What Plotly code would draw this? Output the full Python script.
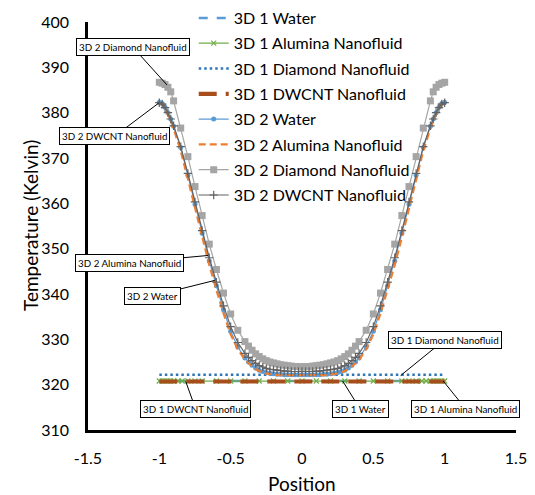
import plotly.graph_objects as go

# ---------------- data ----------------
x_3d1 = [-1.0, -0.98, -0.96, -0.94, -0.92, -0.9, -0.87, -0.84, -0.8, -0.75, -0.7, -0.6,
         -0.5, -0.4, -0.3, -0.2, -0.1, 0.0, 0.1, 0.2, 0.3, 0.4, 0.5, 0.6, 0.7, 0.75,
         0.8, 0.84, 0.87, 0.9, 0.92, 0.94, 0.96, 0.98, 1.0]

water_3d1 = [320.8, 320.8, 320.8, 320.8, 320.8, 320.8, 320.8, 320.8, 320.8, 320.8, 320.8, 320.8,
             320.8, 320.8, 320.8, 320.8, 320.8, 320.8, 320.8, 320.8, 320.8, 320.8, 320.8, 320.8,
             320.8, 320.8, 320.8, 320.8, 320.8, 320.8, 320.8, 320.8, 320.8, 320.8, 320.8]
alumina_3d1 = [320.8, 320.8, 320.8, 320.8, 320.8, 320.8, 320.8, 320.8, 320.8, 320.8, 320.8, 320.8,
               320.8, 320.8, 320.8, 320.8, 320.8, 320.8, 320.8, 320.8, 320.8, 320.8, 320.8, 320.8,
               320.8, 320.8, 320.8, 320.8, 320.8, 320.8, 320.8, 320.8, 320.8, 320.8, 320.8]
diamond_3d1 = [322.2, 322.2, 322.2, 322.2, 322.2, 322.2, 322.2, 322.2, 322.2, 322.2, 322.2, 322.2,
               322.2, 322.2, 322.2, 322.2, 322.2, 322.2, 322.2, 322.2, 322.2, 322.2, 322.2, 322.2,
               322.2, 322.2, 322.2, 322.2, 322.2, 322.2, 322.2, 322.2, 322.2, 322.2, 322.2]
dwcnt_3d1 = [320.7, 320.7, 320.7, 320.7, 320.7, 320.7, 320.7, 320.7, 320.7, 320.7, 320.7, 320.7,
             320.7, 320.7, 320.7, 320.7, 320.7, 320.7, 320.7, 320.7, 320.7, 320.7, 320.7, 320.7,
             320.7, 320.7, 320.7, 320.7, 320.7, 320.7, 320.7, 320.7, 320.7, 320.7, 320.7]

x_3d2 = [-1.0, -0.98, -0.96, -0.94, -0.92, -0.9, -0.85, -0.8, -0.75, -0.7, -0.65, -0.6,
         -0.55, -0.5, -0.45, -0.4, -0.375, -0.35, -0.325, -0.3, -0.275, -0.25, -0.225, -0.2,
         -0.175, -0.15, -0.125, -0.1, -0.075, -0.05, -0.025, 0.0,
         0.025, 0.05, 0.075, 0.1, 0.125, 0.15, 0.175, 0.2, 0.225, 0.25, 0.275, 0.3,
         0.325, 0.35, 0.375, 0.4, 0.45, 0.5, 0.55, 0.6, 0.65, 0.7, 0.75, 0.8,
         0.85, 0.9, 0.92, 0.94, 0.96, 0.98, 1.0]

water_3d2 = [382.3, 382.0, 381.2, 380.0, 378.6, 377.0, 372.3, 366.2, 359.8, 353.4, 347.3, 341.8,
             336.5, 331.8, 328.3, 325.9, 325.0, 324.3, 323.7, 323.2, 322.9, 322.7, 322.5, 322.4,
             322.3, 322.3, 322.2, 322.2, 322.2, 322.2, 322.2, 322.2,
             322.2, 322.2, 322.2, 322.2, 322.2, 322.3, 322.3, 322.4, 322.5, 322.7, 322.9, 323.2,
             323.7, 324.3, 325.0, 325.9, 328.3, 331.8, 336.5, 341.8, 347.3, 353.4, 359.8, 366.2,
             372.3, 377.0, 378.6, 380.0, 381.2, 382.0, 382.3]
alumina_3d2 = [382.1, 381.8, 381.0, 379.7, 378.2, 376.5, 371.6, 365.4, 358.9, 352.5, 346.4, 340.9,
               335.7, 331.1, 327.8, 325.5, 324.7, 324.0, 323.4, 323.0, 322.7, 322.5, 322.3, 322.2,
               322.1, 322.1, 322.0, 322.0, 322.0, 322.0, 322.0, 322.0,
               322.0, 322.0, 322.0, 322.0, 322.0, 322.1, 322.1, 322.2, 322.3, 322.5, 322.7, 323.0,
               323.4, 324.0, 324.7, 325.5, 327.8, 331.1, 335.7, 340.9, 346.4, 352.5, 358.9, 365.4,
               371.6, 376.5, 378.2, 379.7, 381.0, 381.8, 382.1]
diamond_3d2 = [386.7, 386.5, 386.2, 385.6, 384.6, 382.6, 376.6, 370.3, 363.7, 357.3, 351.0, 345.4,
               340.2, 335.6, 332.0, 329.5, 328.5, 327.6, 326.8, 326.2, 325.7, 325.3, 325.0, 324.8,
               324.6, 324.4, 324.3, 324.2, 324.1, 324.0, 324.0, 323.9,
               324.0, 324.0, 324.1, 324.2, 324.3, 324.4, 324.6, 324.8, 325.0, 325.3, 325.7, 326.2,
               326.8, 327.6, 328.5, 329.5, 332.0, 335.6, 340.2, 345.4, 351.0, 357.3, 363.7, 370.3,
               376.6, 382.6, 384.6, 385.6, 386.2, 386.5, 386.7]
dwcnt_3d2 = [382.2, 381.9, 381.1, 380.0, 378.6, 377.1, 372.5, 366.6, 360.3, 354.0, 348.0, 342.6,
             337.4, 332.8, 329.3, 326.9, 326.0, 325.3, 324.7, 324.2, 323.9, 323.6, 323.4, 323.3,
             323.2, 323.1, 323.0, 323.0, 322.9, 322.9, 322.9, 322.9,
             322.9, 322.9, 322.9, 323.0, 323.0, 323.1, 323.2, 323.3, 323.4, 323.6, 323.9, 324.2,
             324.7, 325.3, 326.0, 326.9, 329.3, 332.8, 337.4, 342.6, 348.0, 354.0, 360.3, 366.6,
             372.5, 377.1, 378.6, 380.0, 381.1, 381.9, 382.2]

x_tick_vals = [-1.5, -1, -0.5, 0, 0.5, 1, 1.5]
x_tick_text = ["-1.5", "-1", "-0.5", "0", "0.5", "1", "1.5"]
y_tick_vals = [310, 320, 330, 340, 350, 360, 370, 380, 390, 400]
y_tick_text = ["310", "320", "330", "340", "350", "360", "370", "380", "390", "400"]

# callout labels: text, point (x, y), box centre (x, y)
callout_text = ["3D 2 Diamond Nanofluid", "3D 2 DWCNT Nanofluid", "3D 2 Alumina Nanofluid",
                "3D 2 Water", "3D 1 Diamond Nanofluid", "3D 1 DWCNT Nanofluid",
                "3D 1 Water", "3D 1 Alumina Nanofluid"]
callout_px = [-0.946, -1.005, -0.659, -0.611, 0.691, -0.815, 0.285, 0.99]
callout_py = [386.1, 382.1, 348.5, 343.0, 322.0, 320.7, 320.8, 320.8]
callout_bx = [-1.187, -1.313, -1.211, -1.045, 1.0, -0.745, 0.408, 1.149]
callout_by = [394.5, 374.8, 346.9, 339.6, 329.9, 314.6, 314.6, 314.6]

for arr in (water_3d2, alumina_3d2, diamond_3d2, dwcnt_3d2):
    assert len(arr) == len(x_3d2)

# ---------------- figure ----------------
FONT = "Lato"
fig = go.Figure()

fig.add_trace(go.Scatter(x=x_3d1, y=water_3d1, name="3D 1 Water", mode="lines",
                         line=dict(color="#5B9BD5", width=2.5, dash="dash"), legendgroup="a"))
fig.add_trace(go.Scatter(x=x_3d1, y=alumina_3d1, name="3D 1 Alumina Nanofluid", mode="lines+markers",
                         line=dict(color="#70AD47", width=1.2),
                         marker=dict(symbol="x-thin", size=5, line=dict(color="#70AD47", width=1.2)),
                         legendgroup="b"))
fig.add_trace(go.Scatter(x=x_3d1, y=diamond_3d1, name="3D 1 Diamond Nanofluid", mode="lines",
                         line=dict(color="#2E75B6", width=2.5, dash="2.5px,3px"), legendgroup="c"))
fig.add_trace(go.Scatter(x=x_3d1, y=dwcnt_3d1, name="3D 1 DWCNT Nanofluid", mode="lines",
                         line=dict(color="#A84E1C", width=4.2, dash="18px,9px"), legendgroup="d"))
fig.add_trace(go.Scatter(x=x_3d2, y=water_3d2, name="3D 2 Water", mode="lines+markers",
                         line=dict(color="#5B9BD5", width=1.2),
                         marker=dict(symbol="circle", size=5, color="#5B9BD5"), legendgroup="e"))
fig.add_trace(go.Scatter(x=x_3d2, y=alumina_3d2, name="3D 2 Alumina Nanofluid", mode="lines",
                         line=dict(color="#ED7D31", width=2.2, dash="7px,4px"), legendgroup="f"))
fig.add_trace(go.Scatter(x=x_3d2, y=diamond_3d2, name="3D 2 Diamond Nanofluid", mode="lines+markers",
                         line=dict(color="#A5A5A5", width=1.2),
                         marker=dict(symbol="square", size=7, color="#A5A5A5"), legendgroup="g"))
fig.add_trace(go.Scatter(x=x_3d2, y=dwcnt_3d2, name="3D 2 DWCNT Nanofluid", mode="lines+markers",
                         line=dict(color="#636363", width=1.2),
                         marker=dict(symbol="cross-thin", size=6, line=dict(color="#636363", width=1.2)),
                         legendgroup="h"))

annotations = []
for t, px, py, bx, by in zip(callout_text, callout_px, callout_py, callout_bx, callout_by):
    annotations.append(dict(
        text=t, x=px, y=py, xref="x", yref="y", ax=bx, ay=by, axref="x", ayref="y",
        showarrow=True, arrowhead=0, arrowwidth=1, arrowcolor="black", standoff=0,
        bordercolor="black", borderwidth=1, borderpad=2, bgcolor="white",
        font=dict(family=FONT, size=9.8, color="black")))

annotations.append(dict(text="Position", x=0.5, y=-0.132, xref="paper", yref="paper",
                        showarrow=False, xanchor="center", yanchor="middle",
                        font=dict(family=FONT, size=19, color="black")))
annotations.append(dict(text="Temperature (Kelvin)", x=-0.1355, y=0.5, xref="paper", yref="paper",
                        showarrow=False, xanchor="center", yanchor="middle", textangle=-90,
                        font=dict(family=FONT, size=19, color="black")))

fig.update_layout(
    width=527, height=487,
    margin=dict(l=80, r=19, t=14, b=65, autoexpand=False),
    paper_bgcolor="white", plot_bgcolor="white",
    font=dict(family=FONT, size=16, color="black"),
    showlegend=True,
    legend=dict(x=0.247, y=1.0515, xanchor="left", yanchor="top",
                bgcolor="rgba(0,0,0,0)", font=dict(family=FONT, size=16, color="black"),
                tracegroupgap=1.5, traceorder="grouped"),
    annotations=annotations,
)
fig.update_xaxes(range=[-1.5, 1.5], tickvals=x_tick_vals, ticktext=x_tick_text,
                 showline=True, linecolor="black", linewidth=2.5, showgrid=False, zeroline=False,
                 ticks="", ticklabelstandoff=12, tickfont=dict(family=FONT, size=16))
fig.update_yaxes(range=[310, 400], tickvals=y_tick_vals, ticktext=y_tick_text,
                 showline=True, linecolor="black", linewidth=2.5, showgrid=False, zeroline=False,
                 ticks="", ticklabelstandoff=13, tickfont=dict(family=FONT, size=16))

fig.write_html("out.html")
